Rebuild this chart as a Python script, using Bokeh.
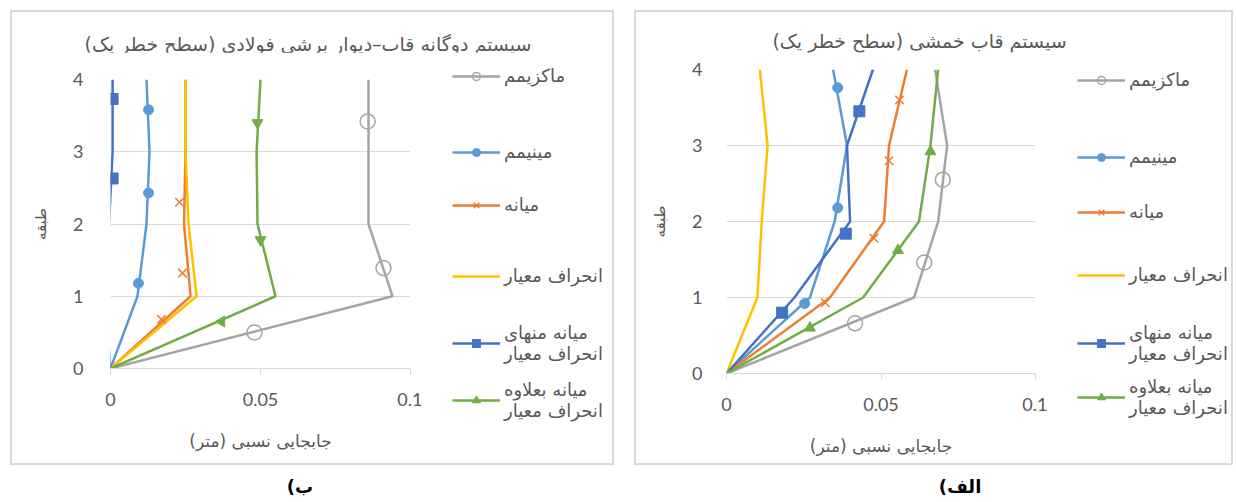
import math
from bokeh.plotting import figure
from bokeh.models import Legend, LegendItem, FixedTicker, Div, ColumnDataSource
from bokeh.layouts import row, column
from bokeh.embed import file_html
from bokeh.resources import INLINE

RLM = "\u200F"

# ---------------- data ----------------
floors = [0, 1, 2, 3, 4]
x_ticks = [0, 0.05, 0.1]
x_tick_labels = ["0", "0.05", "0.1"]
y_ticks = [0, 1, 2, 3, 4]

series_names = ["ماکزیمم", "مینیمم", "میانه", "انحراف معیار",
                "میانه منهای\nانحراف معیار", "میانه بعلاوه\nانحراف معیار"]

title_b = "سیستم دوگانه قاب–دیوار برشی فولادی (سطح خطر یک)"
title_a = "سیستم  قاب خمشی (سطح خطر یک)"
x_label = "جابجایی نسبی (متر)"
y_label = "طبقه"
panel_b = "ب)"
panel_a = "الف)"

# chart (ب) : dual system
b_max = [0, 0.094, 0.086, 0.086, 0.086]
b_min = [0, 0.009, 0.012, 0.013, 0.012]
b_med = [0, 0.0267, 0.0245, 0.025, 0.025]
b_std = [0, 0.0287, 0.026, 0.025, 0.025]
b_med_minus = [0, -0.002, -0.0005, 0.0007, 0.0007]
b_med_plus = [0, 0.055, 0.049, 0.0487, 0.050]

b_max_mx, b_max_my = [0.048, 0.091, 0.0857], [0.5, 1.39, 3.42]
b_min_mx, b_min_my = [0.0093, 0.0127, 0.0127], [1.18, 2.43, 3.58]
b_med_mx, b_med_my = [0.017, 0.024, 0.023], [0.68, 1.32, 2.3]
b_mm_mx, b_mm_my = [0.0007, 0.0007], [2.63, 3.73]
b_mp_mx, b_mp_my = [0.037, 0.050, 0.049], [0.65, 1.78, 3.4]

# chart (الف) : moment frame
a_max = [0, 0.0607, 0.0685, 0.0714, 0.0675]
a_min = [0, 0.027, 0.035, 0.039, 0.0345]
a_med = [0, 0.0335, 0.051, 0.0526, 0.0584]
a_std = [0, 0.0100, 0.0114, 0.0133, 0.0108]
a_med_minus = [0, 0.022, 0.040, 0.039, 0.0474]
a_med_plus = [0, 0.0442, 0.0623, 0.066, 0.0685]

a_max_mx, a_max_my = [0.0416, 0.064, 0.070], [0.66, 1.46, 2.55]
a_min_mx, a_min_my = [0.0253, 0.036, 0.036], [0.92, 2.18, 3.76]
a_med_mx, a_med_my = [0.032, 0.0477, 0.0526, 0.056], [0.93, 1.78, 2.8, 3.6]
a_mm_mx, a_mm_my = [0.018, 0.0386, 0.043], [0.8, 1.84, 3.45]
a_mp_mx, a_mp_my = [0.027, 0.0555, 0.066], [0.6, 1.62, 2.92]

# ---------------- styles / layout ----------------
C_MAX, C_MIN, C_MED, C_STD, C_MM, C_MP = "#A5A5A5", "#5B9BD5", "#ED7D31", "#FFC000", "#4472C4", "#70AD47"
TXT = "#595959"
GRID = "#d9d9d9"
FA_FONT = "DejaVu Sans"
NUM_FONT = "Lato"
LW = 2.5
b_tri_angles = [math.pi / 2, math.pi, math.pi]
a_tri_angles = [0.0, 0.0, 0.0]
# vertical centres (px from top of legend panel) of legend entries
leg_pos_b = [24, 100, 153, 224, 291, 348]
leg_pos_a = [28, 105, 160, 223, 291, 345]
LEG_PAD = 5

STYLE = [
    dict(marker="circle", size=15, fill_color=None, line_color=C_MAX, line_width=1.5),
    dict(marker="circle", size=10, fill_color=C_MIN, line_color=C_MIN),
    dict(marker="x", size=12, line_color=C_MED, line_width=1.5),
    None,
    dict(marker="square", size=11, fill_color=C_MM, line_color=C_MM),
    dict(marker="triangle", size=11, fill_color=C_MP, line_color=C_MP),
]
LINE_COLORS = [C_MAX, C_MIN, C_MED, C_STD, C_MM, C_MP]


def make_chart(fw, fh, bl, br, bt, bb, lines, marks, tri_angles, ytick_standoff):
    p = figure(frame_width=fw, frame_height=fh,
               min_border_left=bl, min_border_right=br,
               min_border_top=bt, min_border_bottom=bb,
               x_range=(0, 0.1), y_range=(0, 4), title_location=None,
               output_backend="svg", toolbar_location=None)
    p.outline_line_color = None
    p.background_fill_color = "white"
    p.border_fill_color = "white"

    p.xgrid.grid_line_color = None
    p.ygrid.grid_line_color = GRID
    p.ygrid.ticker = FixedTicker(ticks=y_ticks)

    xa = p.xaxis[0]
    xa.ticker = FixedTicker(ticks=x_ticks)
    xa.major_label_overrides = {t: s for t, s in zip(x_ticks, x_tick_labels)}
    xa.axis_line_color = GRID
    xa.major_tick_line_color = GRID
    xa.major_tick_out = 6
    xa.major_tick_in = 0
    xa.minor_tick_line_color = None
    xa.major_label_text_font = NUM_FONT
    xa.major_label_text_font_size = "18px"
    xa.major_label_text_color = TXT
    xa.major_label_standoff = 18
    xa.axis_label = x_label + RLM
    xa.axis_label_text_font = FA_FONT
    xa.axis_label_text_font_size = "17px"
    xa.axis_label_text_font_style = "normal"
    xa.axis_label_text_color = TXT
    xa.axis_label_standoff = 22

    ya = p.yaxis[0]
    ya.ticker = FixedTicker(ticks=y_ticks)
    ya.axis_line_color = None
    ya.major_tick_line_color = None
    ya.minor_tick_line_color = None
    ya.major_label_text_font = NUM_FONT
    ya.major_label_text_font_size = "18px"
    ya.major_label_text_color = TXT
    ya.major_label_standoff = ytick_standoff
    ya.axis_label = y_label
    ya.axis_label_text_font = FA_FONT
    ya.axis_label_text_font_size = "15px"
    ya.axis_label_text_font_style = "normal"
    ya.axis_label_text_color = TXT
    ya.axis_label_standoff = 20

    for i, xs in enumerate(lines):
        p.line(xs, floors, line_color=LINE_COLORS[i], line_width=LW)
    mk_idx = [0, 1, 2, 4, 5]
    for (mx, my), i in zip(marks, mk_idx):
        st = dict(STYLE[i])
        if i == 5:
            src = ColumnDataSource(dict(x=mx, y=my, a=tri_angles))
            p.scatter("x", "y", source=src, angle="a", **st)
        else:
            p.scatter(mx, my, **st)
    return p


def make_legend_fig(width, height, lines, marks, centers, vx, k):
    lf = figure(width=width, height=height, x_axis_type=None, y_axis_type=None,
                x_range=(0, 1), y_range=(0, 1), title_location=None,
                min_border_left=0, min_border_right=0, min_border_top=0, min_border_bottom=0,
                output_backend="svg", toolbar_location=None)
    lf.outline_line_color = None
    lf.background_fill_color = "white"
    lf.border_fill_color = "white"
    mk_of = {0: 0, 1: 1, 2: 2, 4: 3, 5: 4}
    for i, name in enumerate(series_names):
        rs = [lf.line(lines[i], floors, line_color=LINE_COLORS[i], line_width=LW, visible=False)]
        if STYLE[i] is not None:
            st = dict(STYLE[i])
            if i == 5:
                st["angle"] = math.pi / 2
            mx, my = marks[mk_of[i]]
            rs.append(lf.scatter(mx, my, visible=False, **st))
        h = 43 if "\n" in name else 22
        vy = height - k - centers[i] - h / 2 - LEG_PAD
        leg = Legend(items=[LegendItem(label=name, renderers=rs)], location=(vx, vy))
        leg.label_text_font = FA_FONT
        leg.label_text_font_size = "18px"
        leg.label_text_color = TXT
        leg.glyph_width = 48
        leg.glyph_height = 20
        leg.label_height = 20
        leg.label_standoff = 4
        leg.padding = LEG_PAD
        leg.margin = 0
        leg.border_line_color = None
        leg.background_fill_alpha = 0
        leg.inactive_fill_alpha = 0
        lf.add_layout(leg, "center")
    return lf


def text_div(text, width, height, size, color, pt, pl, pr, bold=False):
    inner = (f'<div style="width:{width}px;box-sizing:border-box;'
             f'padding-top:{pt}px;padding-left:{pl}px;padding-right:{pr}px;'
             f'text-align:center;direction:rtl;line-height:1.2;white-space:nowrap;">{text}</div>')
    return Div(text=inner, width=width, height=height, margin=0,
               styles={"font-size": f"{size}px", "font-family": FA_FONT, "color": color,
                       "font-weight": "bold" if bold else "normal",
                       "background": "white", "overflow": "visible"})


lines_b = (b_max, b_min, b_med, b_std, b_med_minus, b_med_plus)
marks_b = ((b_max_mx, b_max_my), (b_min_mx, b_min_my), (b_med_mx, b_med_my),
           (b_mm_mx, b_mm_my), (b_mp_mx, b_mp_my))
lines_a = (a_max, a_min, a_med, a_std, a_med_minus, a_med_plus)
marks_a = ((a_max_mx, a_max_my), (a_min_mx, a_min_my), (a_med_mx, a_med_my),
           (a_mm_mx, a_mm_my), (a_mp_mx, a_mp_my))

# chart (ب)
cb = make_chart(300, 289, 98, 12, 27, 95, lines_b, marks_b, b_tri_angles, 21)
lb = make_legend_fig(190, 411, lines_b, marks_b, leg_pos_b, 30, -6)
box_b = column(text_div(title_b, 600, 40, 19, TXT, 21, 0, 8),
               row(cb, column(lb, spacing=0), spacing=0), spacing=0,
               styles={"border": "2px solid #d9d9d9", "background": "white"})

# chart (الف)
ca = make_chart(309, 304, 90, 12, 17, 90, lines_a, marks_a, a_tri_angles, 18)
la = make_legend_fig(184, 411, lines_a, marks_a, leg_pos_a, 30, -6)
box_a = column(text_div(title_a, 595, 40, 19, TXT, 18, 0, 28),
               row(ca, column(la, spacing=0), spacing=0), spacing=0,
               styles={"border": "2px solid #d9d9d9", "background": "white"})

lab_b = text_div(panel_b, 604, 35, 18, "black", 11, 0, 24, bold=True)
lab_a = text_div(panel_a, 599, 35, 18, "black", 11, 53, 0, bold=True)

layout = row(column(box_b, lab_b, spacing=0), column(box_a, lab_a, spacing=0), spacing=20,
             styles={"padding-left": "10px", "padding-top": "10px"})
open("out.html", "w").write(file_html(layout, INLINE))
